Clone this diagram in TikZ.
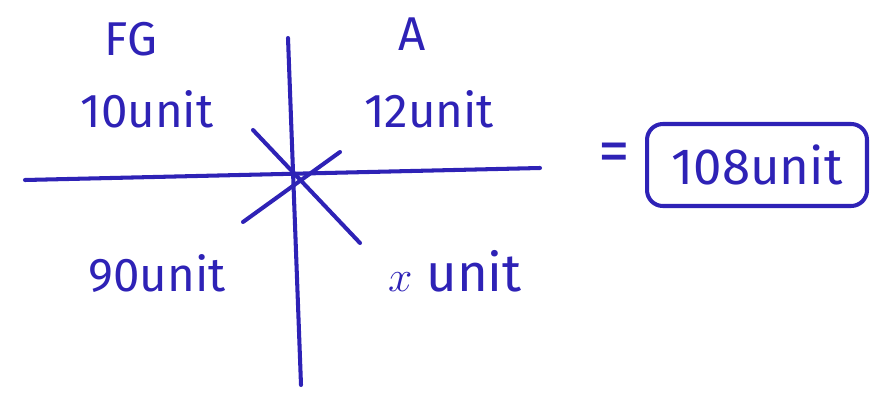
\documentclass[tikz,border=0pt]{standalone}
\usepackage{fontspec}
\setmainfont{Fira Sans}
\usepackage{tikz}
\usetikzlibrary{positioning}
\definecolor{pen}{RGB}{46,34,182}

\begin{document}
\begin{tikzpicture}[x=0.02cm, y=-0.02cm,
    stroke/.style={draw=pen, line width=2.3pt, line cap=round},
    lbl/.style={text=pen, font=\fontsize{27}{32}\selectfont, inner sep=0pt},
    answer/.style={lbl, draw=pen, line width=2.3pt, rounded corners=9pt, minimum width=4.4cm, minimum height=1.64cm}]
\useasboundingbox (0,0) rectangle (888,395);
% axes and the two slanted strokes
\coordinate (west) at (25,180);
\coordinate (east) at (540,168);
\coordinate (north) at (288,38);
\coordinate (south) at (301,385);
\coordinate (nw) at (253,130);
\coordinate (se) at (360,243);
\coordinate (ne) at (340,152);
\coordinate (sw) at (243,222);
\draw[stroke] (west) -- (east);
\draw[stroke] (north) -- (south);
\draw[stroke] (nw) -- (se);
\draw[stroke] (ne) -- (sw);

\node[lbl] (fg) at (131,39) {FG};
\node[lbl] (a) at (412,34) {A};
\node[lbl, anchor=base] (fgval) at (147,127) {10unit};
\node[lbl, anchor=base] (aval) at (429,127) {12unit};
\node[lbl, anchor=base] (swval) at (157,291) {90unit};
\node[lbl, anchor=base] (seval) at (455,291) {\fontsize{30}{32}\selectfont$x$ unit};
\node[lbl, font=\fontsize{36}{40}\selectfont] (eq) at (614,158) {=};
\node[answer, font=\fontsize{29}{34}\selectfont] (res) at (757,165) {108unit};
\end{tikzpicture}
\end{document}
